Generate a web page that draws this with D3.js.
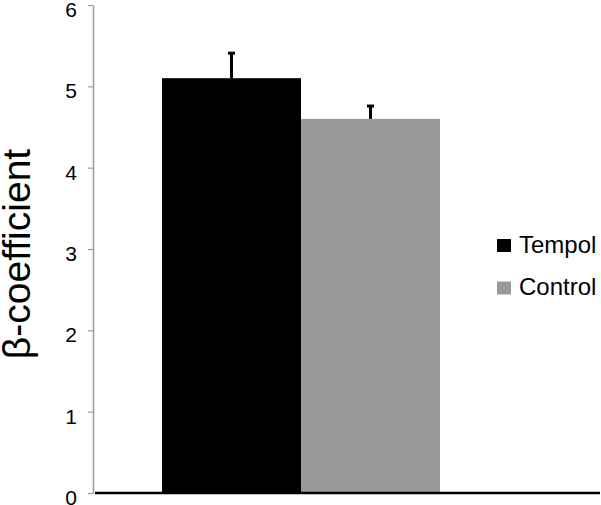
<!DOCTYPE html>
<html>
<head>
<meta charset="utf-8">
<script src="https://cdn.jsdelivr.net/npm/d3@7"></script>
<style>
  body { margin: 0; background: #fff; }
  text { font-family: "Liberation Sans", Arial, sans-serif; }
</style>
</head>
<body>
<div id="chart"></div>
<script>
// data
const groups = ["Tempol", "Control"];
const means = [5.10, 4.60];
const errors = [0.32, 0.17];
const colors = ["#000000", "#999999"];
const yTicks = [0, 1, 2, 3, 4, 5, 6];

const width = 601, height = 505;

const svg = d3.select("#chart")
    .append("svg")
    .attr("width", width)
    .attr("height", height);

// y scale: 0 sits on the baseline, 6 at the top of the axis
const yScale = d3.scaleLinear()
    .domain([0, 6])
    .range([493, 5]);

// x scale for the two bars (they touch each other)
const xScale = d3.scaleBand()
    .domain(groups)
    .range([162, 440])
    .padding(0);

// y axis, gray line with small outer ticks
const yAxis = svg.append("g")
    .attr("transform", "translate(93,0)")
    .call(d3.axisLeft(yScale).tickValues(yTicks).tickSize(5).tickSizeOuter(0).tickFormat(d3.format("d")));
yAxis.select(".domain").attr("stroke", "#999").attr("stroke-width", 1.5);
yAxis.selectAll(".tick line").attr("stroke", "#999").attr("stroke-width", 1.2);
yAxis.selectAll(".tick text")
    .attr("x", -16)
    .attr("y", 4)
    .attr("dy", "0.36em")
    .attr("font-size", "21px")
    .attr("fill", "#000")
    .style("font-family", "'Liberation Sans', Arial, sans-serif");

// bars
svg.selectAll("rect.bar")
    .data(groups)
    .enter()
    .append("rect")
      .attr("class", "bar")
      .attr("x", d => xScale(d))
      .attr("y", (d, i) => yScale(means[i]))
      .attr("width", xScale.bandwidth())
      .attr("height", (d, i) => yScale(0) - yScale(means[i]))
      .attr("fill", (d, i) => colors[i]);

// error bars, upper half only
const err = svg.selectAll("g.err")
    .data(groups)
    .enter()
    .append("g")
      .attr("class", "err");
err.append("line")
    .attr("x1", d => xScale(d) + xScale.bandwidth() / 2)
    .attr("x2", d => xScale(d) + xScale.bandwidth() / 2)
    .attr("y1", (d, i) => yScale(means[i]))
    .attr("y2", (d, i) => yScale(means[i] + errors[i]))
    .attr("stroke", "#000")
    .attr("stroke-width", 3);
err.append("line")
    .attr("x1", d => xScale(d) + xScale.bandwidth() / 2 - 3.5)
    .attr("x2", d => xScale(d) + xScale.bandwidth() / 2 + 3.5)
    .attr("y1", (d, i) => yScale(means[i] + errors[i]) + 1)
    .attr("y2", (d, i) => yScale(means[i] + errors[i]) + 1)
    .attr("stroke", "#000")
    .attr("stroke-width", 3);

// black baseline
svg.append("line")
    .attr("x1", 95)
    .attr("x2", 600)
    .attr("y1", yScale(0))
    .attr("y2", yScale(0))
    .attr("stroke", "#000")
    .attr("stroke-width", 2.5);

// y axis title
svg.append("text")
    .attr("transform", "translate(30,254) rotate(-90)")
    .attr("text-anchor", "middle")
    .attr("font-size", "39px")
    .attr("fill", "#000")
    .text("β-coefficient");

// legend
const legend = svg.selectAll("g.legend")
    .data(groups)
    .enter()
    .append("g")
      .attr("class", "legend")
      .attr("transform", (d, i) => `translate(497,${239 + i * 42.5})`);
legend.append("rect")
    .attr("width", 14)
    .attr("height", 13)
    .attr("fill", (d, i) => colors[i]);
legend.append("text")
    .attr("x", 22)
    .attr("y", 13.5)
    .attr("font-size", "24px")
    .attr("fill", "#000")
    .text(d => d);
</script>
</body>
</html>
